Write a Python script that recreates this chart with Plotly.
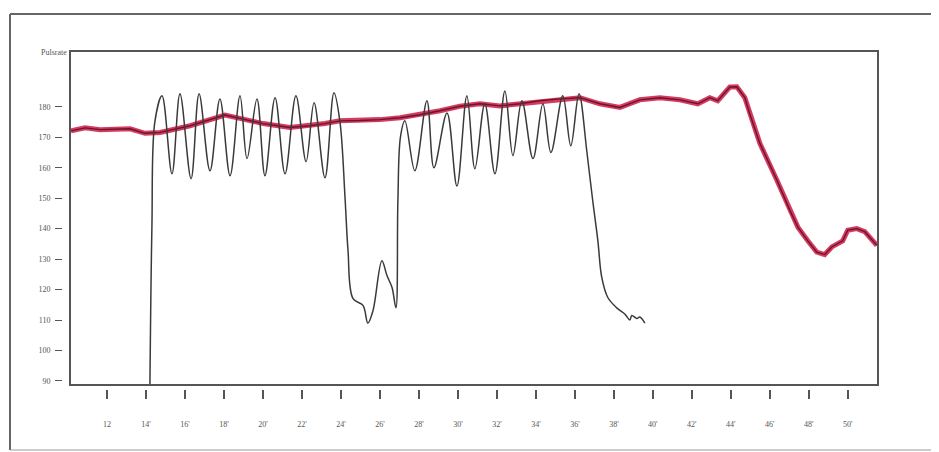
import plotly.graph_objects as go

# ---- data (minutes, beats per minute) ----
red_minutes = [10.15, 10.87, 11.64, 12.67, 13.18, 13.95, 14.72, 16.26, 17.54, 18.05, 18.82,
               20.00, 21.38, 22.41, 23.18, 23.95, 24.97, 26.00, 27.03, 28.05, 29.08, 30.10,
               31.13, 32.15, 33.18, 34.21, 35.23, 36.26, 37.28, 38.31, 39.33, 40.36, 41.38,
               42.31, 42.92, 43.33, 43.95, 44.31, 44.72, 44.97, 45.49, 46.36, 47.03, 47.44,
               47.95, 48.41, 48.82, 49.18, 49.74, 50.00, 50.46, 50.87, 51.49]
red_values = [172.1, 173.1, 172.5, 172.6, 172.8, 171.3, 171.6, 173.8, 176.4, 177.3, 176.2,
              174.5, 173.2, 173.8, 174.5, 175.4, 175.5, 175.8, 176.4, 177.4, 178.7, 180.2,
              181.0, 180.3, 181.0, 182.0, 182.6, 183.0, 181.0, 179.8, 182.3, 183.0, 182.3,
              181.0, 183.0, 182.0, 186.5, 186.6, 183.0, 177.7, 168.0, 156.0, 146.0, 140.5,
              136.0, 132.3, 131.5, 134.0, 136.0, 139.5, 140.0, 139.0, 134.5]

black_minutes = [14.20, 14.30, 14.45, 14.82, 15.33, 15.74, 16.31, 16.72, 17.28, 17.79, 18.31,
                 18.82, 19.18, 19.69, 20.10, 20.62, 21.13, 21.69, 22.21, 22.62, 23.18, 23.64,
                 23.95, 24.21, 24.36, 24.62, 25.13, 25.38, 25.64, 26.10, 26.36, 26.62, 26.82,
                 26.92, 27.05, 27.28, 27.79, 28.41, 28.77, 29.44, 29.95, 30.46, 30.87, 31.38,
                 31.90, 32.41, 32.82, 33.28, 33.85, 34.36, 34.77, 35.38, 35.79, 36.21, 36.62,
                 36.92, 37.18, 37.38, 37.69, 38.15, 38.56, 38.82, 38.92, 39.18, 39.33, 39.59]
black_values = [89.0, 140.0, 175.0, 183.6, 158.0, 184.3, 156.4, 184.3, 159.0, 182.6, 157.4,
                183.6, 163.0, 182.6, 157.4, 183.0, 158.0, 183.6, 162.0, 181.3, 156.7, 184.6,
                175.0, 150.0, 133.0, 117.0, 114.8, 109.0, 113.0, 129.5, 124.6, 120.7, 114.0,
                149.0, 170.0, 175.4, 159.0, 182.0, 160.0, 178.0, 154.0, 183.6, 159.7, 181.0,
                158.0, 185.2, 164.0, 182.0, 163.0, 181.0, 165.0, 183.6, 167.2, 184.3, 165.0,
                149.0, 136.0, 124.0, 117.4, 114.0, 112.0, 110.0, 111.5, 110.5, 111.0, 109.0]

x_tick_vals = [12, 14, 16, 18, 20, 22, 24, 26, 28, 30, 32, 34, 36, 38, 40, 42, 44, 46, 48, 50]
x_tick_text = ["12", "14'", "16'", "18'", "20'", "22'", "24'", "26'", "28'", "30'", "32'",
               "34'", "36'", "38'", "40'", "42'", "44'", "46'", "48'", "50'"]
y_tick_vals = [90, 100, 110, 120, 130, 140, 150, 160, 170, 180]
y_tick_text = ["90", "100", "110", "120", "130", "140", "150", "160", "170", "180"]

x_range = [10.15, 51.5]
y_range = [89.0, 198.0]

fig = go.Figure()
fig.add_trace(go.Scatter(x=red_minutes, y=red_values, mode="lines",
                         line=dict(color="rgba(205,25,70,0.85)", width=5),
                         hoverinfo="skip", showlegend=False))
fig.add_trace(go.Scatter(x=red_minutes, y=red_values, mode="lines",
                         line=dict(color="#6e1428", width=1.4),
                         showlegend=False))
fig.add_trace(go.Scatter(x=black_minutes, y=black_values, mode="lines",
                         line=dict(color="#3a3a3a", width=1.5, shape="spline", smoothing=1.0),
                         showlegend=False))

# the page body adds an 8px offset; target pixel positions are shifted accordingly
OFF = 8
W, H = 939 - OFF, 452 - OFF
L = 62 - OFF
T = 52 - OFF
plot_right = 877 - OFF
R = W - plot_right
paper_bottom = 389 - OFF
B = H - paper_bottom
pw = W - L - R
ph = H - T - B
xdom0 = (71 - OFF - L) / pw
ydom0 = (paper_bottom - (384 - OFF)) / ph


def px_x(px):
    return (px - OFF - L) / pw


def px_y(py):
    return (paper_bottom - (py - OFF)) / ph


tickfont = dict(family="Liberation Serif, DejaVu Serif, serif", size=8, color="#555555")
frame = dict(color="#666666", width=2)

fig.update_layout(
    width=W, height=H,
    margin=dict(l=L, r=R, t=T, b=B),
    paper_bgcolor="white", plot_bgcolor="white",
    xaxis=dict(domain=[xdom0, 1], range=x_range, showline=True, mirror=True,
               linecolor="#555555", linewidth=1.6, showgrid=False, zeroline=False,
               showticklabels=False, ticks=""),
    yaxis=dict(domain=[ydom0, 1], range=y_range, showline=True, mirror=True,
               linecolor="#555555", linewidth=1.6, showgrid=False, zeroline=False,
               showticklabels=False, ticks=""),
    xaxis2=dict(overlaying="x", anchor="free", position=0, range=x_range,
                tickmode="array", tickvals=x_tick_vals, ticktext=x_tick_text,
                ticks="outside", ticklen=9, tickwidth=1.5, tickcolor="#555555",
                showline=False, showgrid=False, zeroline=False, tickfont=tickfont,
                ticklabelstandoff=18),
    yaxis2=dict(overlaying="y", anchor="free", position=0, side="left", range=y_range,
                tickmode="array", tickvals=y_tick_vals, ticktext=y_tick_text,
                ticks="outside", ticklen=7, tickwidth=1.3, tickcolor="#555555",
                showline=False, showgrid=False, zeroline=False, tickfont=tickfont,
                ticklabelstandoff=3),
    annotations=[dict(text="Pulsrate", xref="paper", yref="paper", x=xdom0 - 0.003, y=1.0,
                      xanchor="right", yanchor="middle", showarrow=False,
                      font=dict(family="Liberation Serif, DejaVu Serif, serif", size=8,
                                color="#555555"))],
    shapes=[
        dict(type="line", xref="paper", yref="paper", x0=px_x(10), x1=px_x(939),
             y0=px_y(14), y1=px_y(14), line=frame),
        dict(type="line", xref="paper", yref="paper", x0=px_x(10), x1=px_x(10),
             y0=px_y(14), y1=px_y(450), line=frame),
        dict(type="line", xref="paper", yref="paper", x0=px_x(10), x1=px_x(939),
             y0=px_y(450), y1=px_y(450), line=dict(color="#999999", width=1)),
    ],
)
# invisible marker so the overlay axes render
fig.add_trace(go.Scatter(x=[x_range[0]], y=[y_range[0]], xaxis="x2", yaxis="y2",
                         mode="markers", marker=dict(opacity=0), hoverinfo="skip",
                         showlegend=False))

fig.write_html("out.html")
